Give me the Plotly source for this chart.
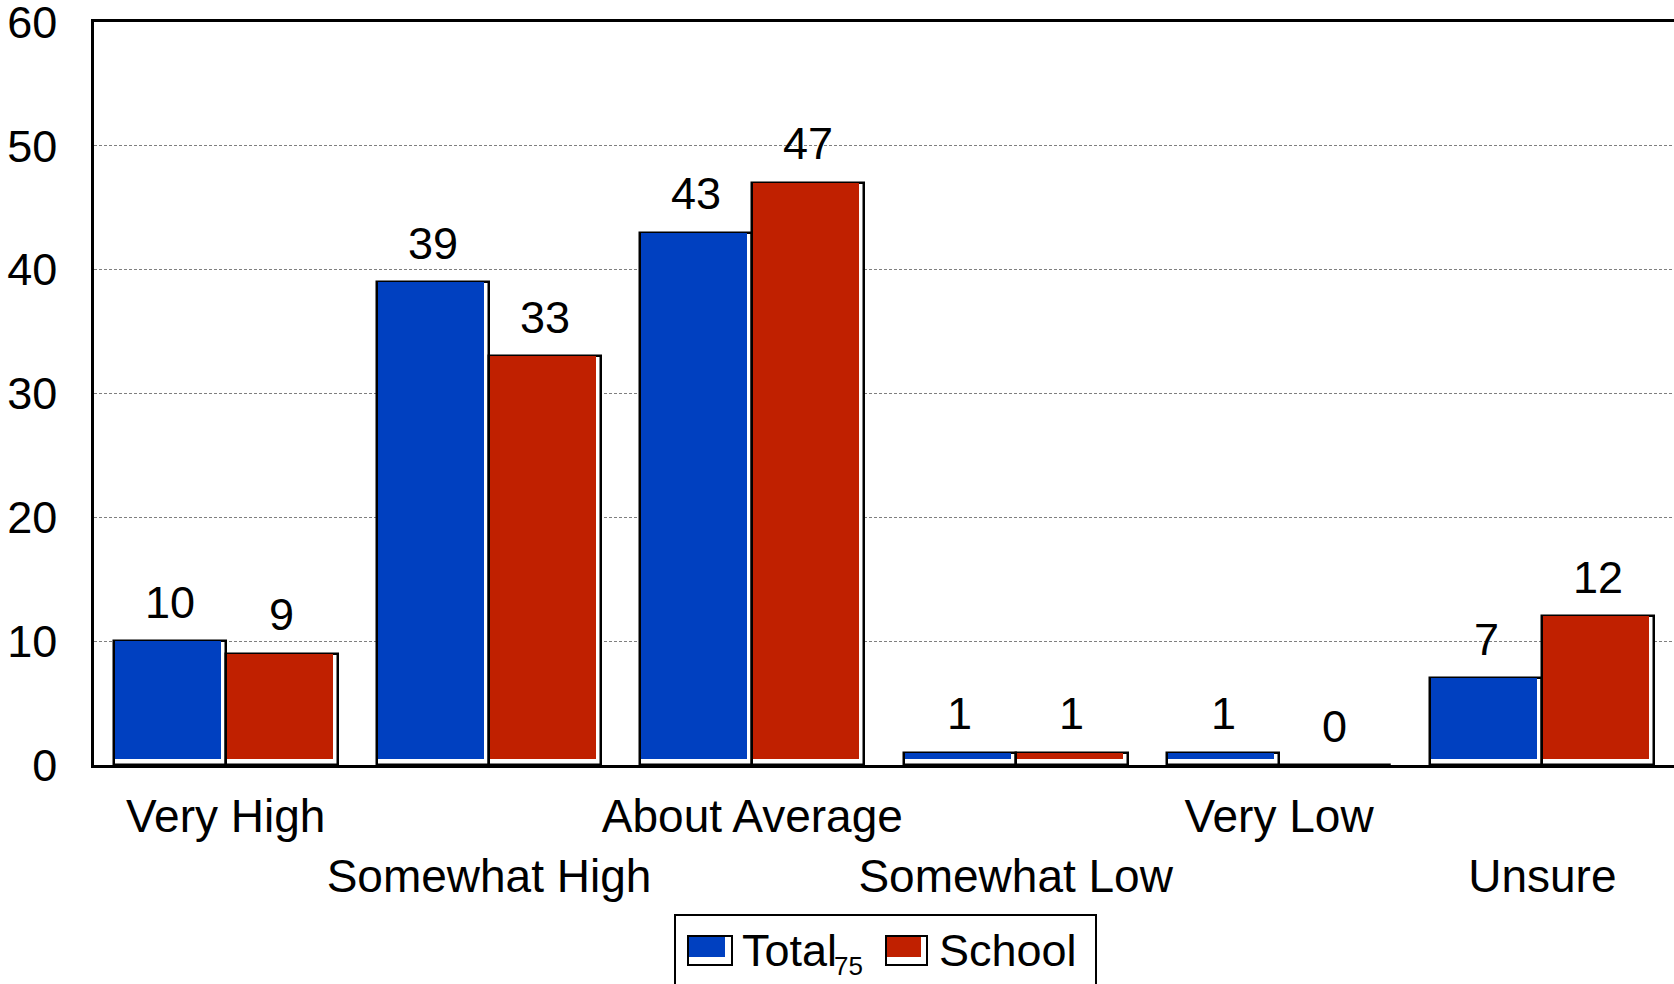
import plotly.graph_objects as go

# Survey responses (percent)
categories = ["Very High", "Somewhat High", "About Average", "Somewhat Low", "Very Low", "Unsure"]
total = [10, 39, 43, 1, 1, 7]
school = [9, 33, 47, 1, 0, 12]
series_names = ["Total", "School"]
footnote = "75"

BLUE = "#0040C0"
RED = "#C02000"
FONT = "Liberation Sans, Arial, sans-serif"

W, H = 1674, 984
ML, MR, MT, MB = 94, 0, 22, 219
PW, PH = W - ML - MR, H - MT - MB

BAR_W = 0.425          # width of one bar in category units
FILL_W = 0.402         # coloured face, leaving a white edge on the right
INSET = 0.45           # white edge at the bottom of the coloured face, in value units

idx = list(range(len(categories)))

fig = go.Figure()

# white "shadow" bars with black outline
for vals, off in ((total, -BAR_W), (school, 0.0)):
    fig.add_trace(go.Bar(
        x=idx, y=vals, offset=off, width=BAR_W,
        marker=dict(color="white", line=dict(color="black", width=2.5)),
        showlegend=False, hoverinfo="skip",
    ))

# coloured faces sitting on top of the outlined bars
for vals, off, col, name in ((total, -BAR_W, BLUE, series_names[0]),
                             (school, 0.0, RED, series_names[1])):
    fig.add_trace(go.Bar(
        x=idx, y=[max(v - INSET, 0) for v in vals], base=INSET,
        offset=off + 0.004, width=FILL_W,
        marker=dict(color=col, line=dict(width=0)),
        name=name, showlegend=False,
        customdata=vals, hovertemplate="%{customdata}<extra>" + name + "</extra>",
    ))

# value labels above each bar
for vals, shift in ((total, -BAR_W / 2), (school, BAR_W / 2)):
    for i, v in zip(idx, vals):
        fig.add_annotation(x=i + shift, y=v, text=str(v), showarrow=False,
                           yanchor="middle", yshift=39,
                           font=dict(family=FONT, size=45, color="black"))

# staggered category labels: two-line labels, alternating which line is used
ticktext = [(c + "<br> ") if i % 2 == 0 else (" <br>" + c) for i, c in enumerate(categories)]


def px(x):
    return (x - ML) / PW


def py(y):
    return (H - MB - y) / PH


# hand-drawn legend box with shadowed swatches
shapes = [dict(type="rect", xref="paper", yref="paper",
               x0=px(675), x1=px(1096), y0=py(1010), y1=py(915),
               line=dict(color="black", width=2), fillcolor="white", layer="above")]
legend_items = [(688, 732, 725, BLUE, 740, series_names[0]),
                (886, 927, 921, RED, 937, series_names[1])]
for ox0, ox1, fx1, col, tx, label in legend_items:
    shapes.append(dict(type="rect", xref="paper", yref="paper",
                       x0=px(ox0), x1=px(ox1), y0=py(965), y1=py(936),
                       line=dict(color="black", width=2), fillcolor="white", layer="above"))
    shapes.append(dict(type="rect", xref="paper", yref="paper",
                       x0=px(ox0 + 1), x1=px(fx1), y0=py(957), y1=py(937),
                       line=dict(width=0), fillcolor=col, layer="above"))
    fig.add_annotation(xref="paper", yref="paper", x=px(tx), y=py(950),
                       xanchor="left", yanchor="middle", showarrow=False, text=label,
                       font=dict(family=FONT, size=45, color="black"))

fig.add_annotation(xref="paper", yref="paper", x=px(848), y=py(966),
                   xanchor="center", yanchor="middle", showarrow=False, text=footnote,
                   font=dict(family=FONT, size=26, color="black"))

fig.update_layout(
    width=W, height=H,
    margin=dict(l=ML, r=MR, t=MT, b=MB, pad=0, autoexpand=False),
    paper_bgcolor="white", plot_bgcolor="white",
    barmode="overlay", bargap=0,
    shapes=shapes,
    font=dict(family=FONT, size=45, color="black"),
    xaxis=dict(
        range=[-0.5, len(categories) - 0.5],
        tickvals=idx, ticktext=ticktext, tickangle=0, automargin=False,
        showgrid=False, zeroline=False,
        showline=True, linecolor="black", linewidth=2.5, mirror=True,
        ticks="", ticklabelstandoff=9, ticklabeloverflow="allow",
        tickfont=dict(family=FONT, size=46, color="black"),
    ),
    yaxis=dict(
        range=[0, 60], tickvals=[0, 10, 20, 30, 40, 50, 60], automargin=False,
        showgrid=True, gridcolor="#7f7f7f", gridwidth=1, griddash="3px,2px",
        zeroline=False,
        showline=True, linecolor="black", linewidth=2.5, mirror=True,
        ticks="", ticklabelstandoff=25, ticklabeloverflow="allow",
        tickfont=dict(family=FONT, size=45, color="black"),
    ),
)

fig.write_html("out.html")
